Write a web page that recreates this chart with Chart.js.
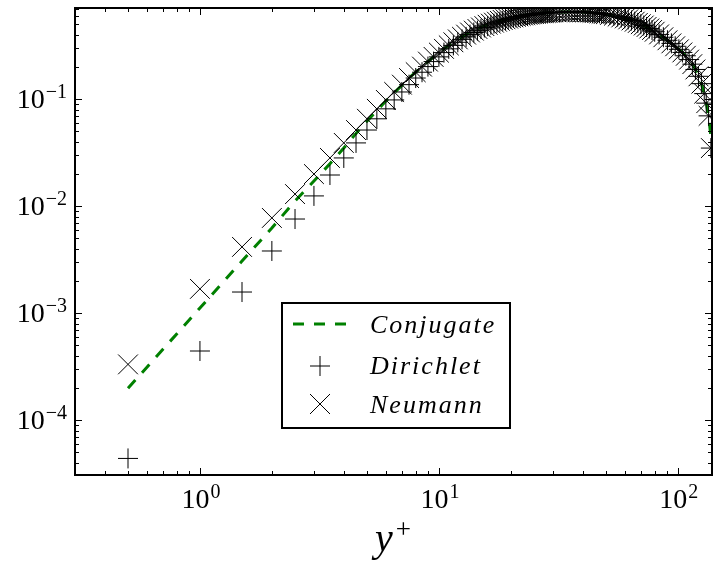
<!DOCTYPE html>
<html>
<head>
<meta charset="utf-8">
<script src="https://cdn.jsdelivr.net/npm/chart.js@4/dist/chart.umd.min.js"></script>
<style>
  html, body { margin: 0; padding: 0; background: #fff; }
  canvas { display: block; }
</style>
</head>
<body>
<canvas id="chart" width="715" height="563"></canvas>
<script>
// wall distance y+ of each sample
const yPlus = [
  0.5, 1, 1.5, 2, 2.5, 3, 3.5, 4, 4.5, 5, 5.5, 6, 6.5, 7, 7.5, 8, 8.5, 9, 9.5, 10,
  10.5, 11, 11.5, 12, 12.5, 13, 13.5, 14, 14.5, 15, 15.5, 16, 16.5, 17, 17.5, 18, 18.5, 19, 19.5, 20,
  20.5, 21, 21.5, 22, 22.5, 23, 23.5, 24, 24.5, 25, 25.5, 26, 26.5, 27, 27.5, 28, 28.5, 29, 29.5, 30,
  31, 32, 33, 34, 35, 36, 37, 38, 39, 40, 41, 42, 43, 44, 45, 46, 47, 48, 49, 50,
  52, 54, 56, 58, 60, 62, 64, 66, 68, 70, 72, 74, 76, 78, 80,
  83.5, 87, 90.5, 94, 97.5, 101, 104.5, 108, 111.5, 115, 118.5, 122, 125.5, 129, 131.5, 134.5, 137.5
];

const conjugate = [
  1.99e-4, 1.12e-3, 3.08e-3, 6.27e-3, 0.0112, 0.0172, 0.0250, 0.0350, 0.0480, 0.0625,
  0.0785, 0.0962, 0.115, 0.135, 0.158, 0.179, 0.202, 0.225, 0.249, 0.273,
  0.296, 0.319, 0.341, 0.363, 0.383, 0.402, 0.421, 0.438, 0.454, 0.469,
  0.483, 0.497, 0.509, 0.520, 0.531, 0.541, 0.551, 0.559, 0.567, 0.575,
  0.583, 0.590, 0.596, 0.602, 0.607, 0.612, 0.616, 0.620, 0.624, 0.627,
  0.630, 0.633, 0.636, 0.638, 0.640, 0.642, 0.644, 0.646, 0.647, 0.649,
  0.651, 0.653, 0.654, 0.655, 0.656, 0.656, 0.656, 0.655, 0.654, 0.653,
  0.651, 0.649, 0.647, 0.645, 0.642, 0.639, 0.636, 0.632, 0.628, 0.624,
  0.614, 0.604, 0.593, 0.582, 0.570, 0.558, 0.545, 0.531, 0.517, 0.503, 0.489, 0.474, 0.459, 0.444, 0.428,
  0.404, 0.380, 0.356, 0.333, 0.313, 0.293, 0.274, 0.255, 0.235, 0.213, 0.190, 0.164, 0.140, 0.113, 0.092, 0.070, 0.045
];

const dirichlet = [
  4.4e-5, 4.44e-4, 1.58e-3, 3.82e-3, 7.6e-3, 0.0125, 0.0196, 0.0283, 0.0391, 0.0516,
  0.0657, 0.0814, 0.0986, 0.117, 0.137, 0.158, 0.179, 0.202, 0.225, 0.249,
  0.273, 0.296, 0.319, 0.341, 0.363, 0.383, 0.402, 0.421, 0.438, 0.454,
  0.469, 0.483, 0.497, 0.509, 0.520, 0.531, 0.541, 0.551, 0.559, 0.567,
  0.575, 0.583, 0.590, 0.596, 0.602, 0.607, 0.612, 0.616, 0.620, 0.624,
  0.627, 0.630, 0.633, 0.636, 0.638, 0.640, 0.642, 0.644, 0.646, 0.647,
  0.650, 0.652, 0.654, 0.655, 0.655, 0.656, 0.656, 0.655, 0.654, 0.653,
  0.651, 0.649, 0.647, 0.645, 0.642, 0.639, 0.636, 0.632, 0.628, 0.624,
  0.614, 0.604, 0.593, 0.582, 0.570, 0.558, 0.545, 0.531, 0.517, 0.503, 0.489, 0.474, 0.459, 0.444, 0.428,
  0.404, 0.380, 0.356, 0.333, 0.313, 0.293, 0.274, 0.255, 0.235, 0.213, 0.190, 0.164, 0.140, 0.113, 0.092, 0.070, 0.035
];

const neumann = [
  3.33e-4, 1.69e-3, 4.17e-3, 7.78e-3, 0.0130, 0.0200, 0.0283, 0.0391, 0.0516, 0.0657,
  0.0814, 0.0986, 0.117, 0.137, 0.158, 0.179, 0.202, 0.225, 0.249, 0.273,
  0.296, 0.319, 0.341, 0.363, 0.383, 0.402, 0.421, 0.438, 0.454, 0.469,
  0.483, 0.497, 0.509, 0.520, 0.531, 0.541, 0.551, 0.559, 0.567, 0.575,
  0.583, 0.590, 0.596, 0.602, 0.607, 0.612, 0.616, 0.620, 0.624, 0.627,
  0.630, 0.633, 0.636, 0.638, 0.640, 0.642, 0.644, 0.646, 0.647, 0.649,
  0.651, 0.653, 0.654, 0.655, 0.656, 0.656, 0.656, 0.655, 0.654, 0.653,
  0.651, 0.649, 0.647, 0.645, 0.642, 0.639, 0.636, 0.632, 0.628, 0.624,
  0.614, 0.604, 0.593, 0.582, 0.570, 0.558, 0.545, 0.531, 0.517, 0.503, 0.489, 0.474, 0.459, 0.444, 0.428,
  0.404, 0.380, 0.356, 0.333, 0.313, 0.293, 0.274, 0.255, 0.235, 0.213, 0.190, 0.164, 0.140, 0.113, 0.092, 0.070, 0.035
];

const seriesNames = ['Conjugate', 'Dirichlet', 'Neumann'];
const xTicks = [1, 10, 100];
const xTickExp = ['0', '1', '2'];
const yTicks = [1e-4, 1e-3, 1e-2, 1e-1];
const yTickExp = ['\u22124', '\u22123', '\u22122', '\u22121'];

const GREEN = '#008000';
const SERIF = '"Liberation Serif", "DejaVu Serif", serif';

const toPoints = (ys) => yPlus.map((x, i) => ({ x: x, y: ys[i] }));

// minor tick values inside the axis range
function minorTicks(min, max) {
  const out = [];
  for (let e = Math.floor(Math.log10(min)); e <= Math.ceil(Math.log10(max)); e++) {
    for (let m = 1; m <= 9; m++) {
      const v = m * Math.pow(10, e);
      if (v >= min && v <= max) out.push({ v: v, major: m === 1 });
    }
  }
  return out;
}

function drawPower(ctx, exp, x, baseY, align) {
  ctx.font = '28px ' + SERIF;
  const wb = ctx.measureText('10').width;
  ctx.font = '20px ' + SERIF;
  const we = ctx.measureText(exp).width;
  const total = wb + 1 + we;
  let left = align === 'right' ? x - total : x - total / 2 + 1;
  ctx.textAlign = 'left';
  ctx.textBaseline = 'alphabetic';
  ctx.font = '28px ' + SERIF;
  ctx.fillText('10', left, baseY);
  ctx.font = '20px ' + SERIF;
  ctx.fillText(exp, left + wb + 1, baseY - 10);
}

const framePlugin = {
  id: 'frame',
  beforeDraw(chart) {
    const ctx = chart.ctx;
    ctx.save();
    ctx.fillStyle = '#fff';
    ctx.fillRect(0, 0, chart.width, chart.height);
    ctx.restore();
  },
  afterDraw(chart) {
    const ctx = chart.ctx;
    const a = chart.chartArea;
    const xs = chart.scales.x, ys = chart.scales.y;
    ctx.save();
    ctx.strokeStyle = '#000';
    ctx.fillStyle = '#000';

    // ticks, pointing inward on all four sides
    ctx.lineWidth = 1;
    ctx.beginPath();
    minorTicks(xs.min, xs.max).forEach(t => {
      const px = Math.round(xs.getPixelForValue(t.v)) + 0.5;
      const len = t.major ? 7 : 4;
      ctx.moveTo(px, a.bottom); ctx.lineTo(px, a.bottom - len);
      ctx.moveTo(px, a.top); ctx.lineTo(px, a.top + len);
    });
    minorTicks(ys.min, ys.max).forEach(t => {
      const py = Math.round(ys.getPixelForValue(t.v)) + 0.5;
      const len = t.major ? 7 : 4;
      ctx.moveTo(a.left, py); ctx.lineTo(a.left + len, py);
      ctx.moveTo(a.right, py); ctx.lineTo(a.right - len, py);
    });
    ctx.stroke();

    // axes box
    ctx.lineWidth = 2;
    ctx.strokeRect(a.left, a.top, a.right - a.left, a.bottom - a.top);

    // tick labels
    xTicks.forEach((v, i) => drawPower(ctx, xTickExp[i], xs.getPixelForValue(v), 508, 'center'));
    yTicks.forEach((v, i) => drawPower(ctx, yTickExp[i], a.left - 8, ys.getPixelForValue(v) + 9, 'right'));

    // axis title y+
    ctx.textAlign = 'left';
    ctx.font = 'italic 40px ' + SERIF;
    ctx.fillText('y', 375, 551);
    const wy = ctx.measureText('y').width;
    ctx.font = '27px ' + SERIF;
    ctx.fillText('+', 375 + wy + 3, 538);

    // legend
    const lx = 282, ly = 303, lw = 228, lh = 125;
    ctx.fillStyle = '#fff';
    ctx.fillRect(lx, ly, lw, lh);
    ctx.lineWidth = 2;
    ctx.strokeStyle = '#000';
    ctx.strokeRect(lx, ly, lw, lh);

    ctx.strokeStyle = GREEN;
    ctx.lineWidth = 3;
    ctx.setLineDash([11, 10]);
    ctx.beginPath();
    ctx.moveTo(293, 324); ctx.lineTo(348, 324);
    ctx.stroke();
    ctx.setLineDash([]);

    ctx.strokeStyle = '#000';
    ctx.lineWidth = 1;
    ctx.beginPath();
    ctx.moveTo(310, 366); ctx.lineTo(330, 366);
    ctx.moveTo(320, 356); ctx.lineTo(320, 376);
    ctx.moveTo(310, 394); ctx.lineTo(330, 414);
    ctx.moveTo(310, 414); ctx.lineTo(330, 394);
    ctx.stroke();

    ctx.fillStyle = '#000';
    ctx.font = 'italic 26px ' + SERIF;
    ctx.letterSpacing = '2px';
    const baselines = [333, 374, 413];
    seriesNames.forEach((n, i) => ctx.fillText(n, 370, baselines[i]));
    ctx.letterSpacing = '0px';
    ctx.restore();
  }
};

new Chart(document.getElementById('chart'), {
  type: 'scatter',
  data: {
    datasets: [
      {
        label: seriesNames[0],
        data: toPoints(conjugate),
        showLine: true,
        borderColor: GREEN,
        borderWidth: 3,
        borderDash: [11, 10],
        pointRadius: 0,
        tension: 0,
        clip: 0,
        order: 3
      },
      {
        label: seriesNames[1],
        data: toPoints(dirichlet),
        pointStyle: 'cross',
        pointRadius: 10,
        borderColor: '#000',
        backgroundColor: '#000',
        borderWidth: 1,
        clip: 0,
        order: 2
      },
      {
        label: seriesNames[2],
        data: toPoints(neumann),
        pointStyle: 'crossRot',
        pointRadius: 14,
        borderColor: '#000',
        backgroundColor: '#000',
        borderWidth: 1,
        clip: 0,
        order: 1
      }
    ]
  },
  options: {
    responsive: false,
    animation: false,
    layout: { autoPadding: false, padding: { left: 75, right: 3, top: 8, bottom: 88 } },
    scales: {
      x: { type: 'logarithmic', min: 0.303, max: 139, display: false },
      y: { type: 'logarithmic', min: 3.08e-5, max: 0.713, display: false }
    },
    plugins: {
      legend: { display: false },
      tooltip: { enabled: false }
    }
  },
  plugins: [framePlugin]
});
</script>
</body>
</html>
